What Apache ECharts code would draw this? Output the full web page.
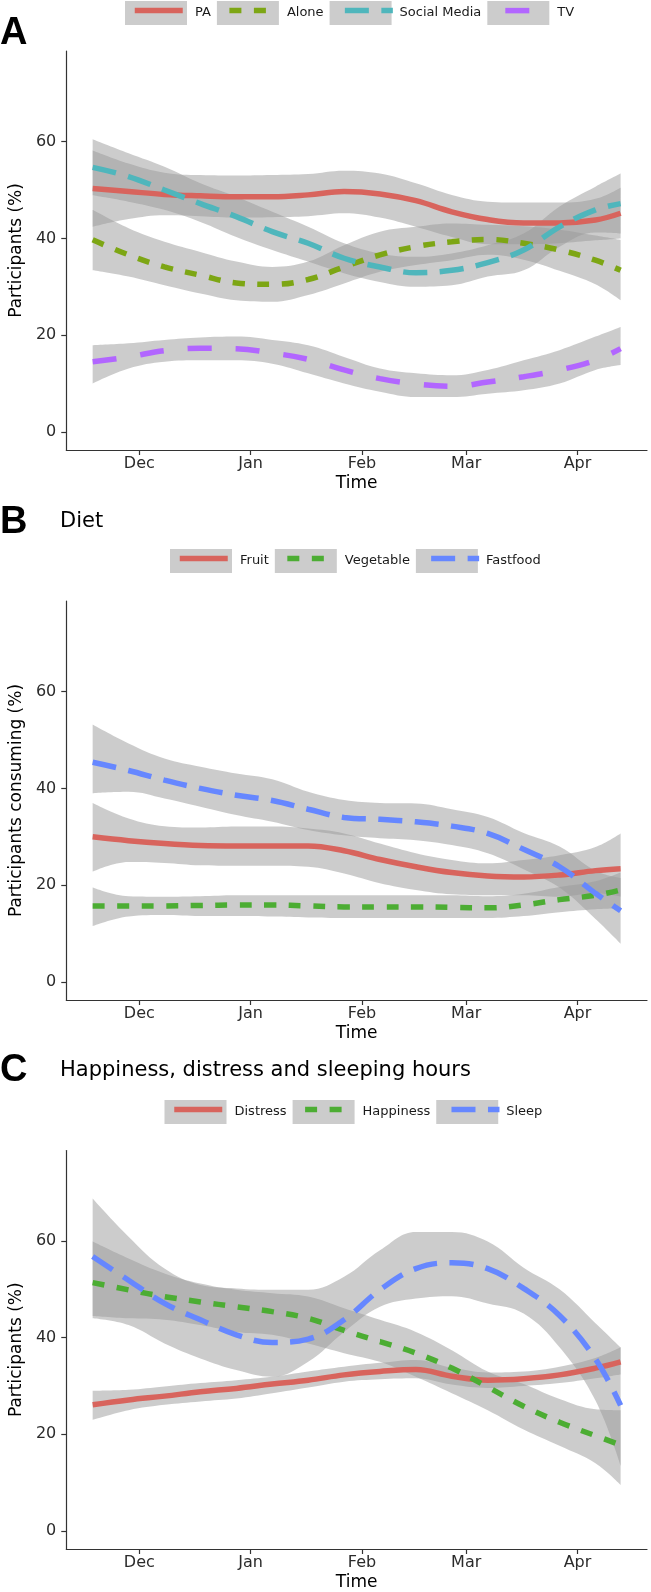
<!DOCTYPE html>
<html><head><meta charset="utf-8">
<script src="https://cdn.jsdelivr.net/npm/echarts@6/dist/echarts.min.js"></script>
<style>html,body{margin:0;padding:0;background:#fff}#c{width:651px;height:1592px}</style>
</head><body><div id="c"></div>
<script>
// x values: days relative to 1 Dec
const days = [-13,-3,7,17,27,37,47,57,67,77,87,97,107,117,127,134];
const monthTicks = [0,31,62,91,122];
const monthLabels = ['Dec','Jan','Feb','Mar','Apr'];
const yTicks = [0,20,40,60];

// Panel A
const paMean = [50.3,49.7,49.1,48.8,48.6,48.6,49.0,49.7,49.2,47.8,45.5,43.9,43.2,43.2,43.8,45.2];
const paLow  = [42.4,44.0,44.8,44.6,44.3,44.4,44.6,45.2,44.3,42.4,40.3,38.8,38.8,39.0,39.6,40.0];
const paHigh = [58.2,55.5,53.6,53.1,53.0,53.1,53.3,54.0,53.4,51.4,49.0,47.6,47.4,47.4,48.2,50.5];
const aloneMean = [39.7,36.6,34.1,32.4,30.8,30.5,31.5,34.1,36.6,38.3,39.3,39.8,39.0,37.6,35.5,33.4];
const aloneLow  = [33.4,32.1,30.3,28.6,27.2,26.9,28.3,30.7,33.1,34.5,35.5,36.6,35.6,33.3,30.5,27.2];
const aloneHigh = [45.9,42.1,39.3,37.2,35.2,34.1,35.2,38.6,41.4,42.4,43.1,42.8,42.5,41.8,40.6,39.7];
const socialMean = [54.7,52.8,50.0,47.2,44.5,41.4,39.0,35.9,34.1,32.9,33.4,35.0,37.6,42.4,45.9,47.2];
const socialLow  = [48.9,47.6,45.9,43.4,40.3,37.6,35.2,32.8,31.0,30.0,30.3,32.1,33.4,38.3,41.2,41.0];
const socialHigh = [60.5,57.6,54.8,51.4,48.6,45.5,42.4,39.0,36.9,36.2,36.9,38.6,41.0,46.6,50.7,53.4];
const tvMean = [14.5,15.5,16.8,17.3,17.2,16.3,15.0,12.8,11.0,9.9,9.4,10.3,11.4,12.8,14.8,17.2];
const tvLow  = [10.0,13.1,14.5,14.8,14.8,14.1,12.1,10.0,8.3,7.2,7.2,7.9,8.6,10.0,12.8,13.8];
const tvHigh = [17.9,18.3,19.0,19.5,19.7,19.0,17.9,15.5,13.1,12.1,11.7,12.8,14.8,16.9,19.7,21.7];

// Panel B
const fruitMean = [30.0,29.2,28.6,28.2,28.1,28.1,28.1,27.1,25.3,23.8,22.6,21.9,21.7,22.1,23.0,23.4];
const fruitLow  = [22.8,24.8,24.6,24.1,24.0,24.0,23.8,22.4,20.4,19.0,18.1,17.9,17.9,17.6,18.3,17.6];
const fruitHigh = [37.0,33.8,32.2,31.9,32.1,32.1,31.7,30.7,28.6,26.6,25.2,24.5,25.2,26.2,27.9,30.7];
const vegMean = [15.7,15.7,15.7,15.8,15.9,15.9,15.7,15.5,15.5,15.5,15.4,15.3,15.9,17.0,17.9,19.0];
const vegLow  = [11.5,13.5,13.8,13.6,13.6,13.5,13.3,13.2,13.2,13.2,13.2,13.2,13.6,14.4,15.0,15.2];
const vegHigh = [19.5,17.7,17.6,17.7,17.9,17.9,17.9,17.9,17.9,17.9,17.9,17.7,18.2,19.6,20.8,22.6];
const fastMean = [45.4,43.7,41.7,40.0,38.6,37.5,35.7,34.0,33.6,33.1,32.2,30.7,27.4,23.8,18.3,14.7];
const fastLow  = [39.0,39.3,37.9,36.2,34.5,33.1,31.4,30.3,29.7,29.3,28.3,26.6,23.3,19.5,13.0,7.9];
const fastHigh = [53.2,49.3,46.2,44.5,43.1,41.9,39.3,37.6,37.0,36.9,35.7,34.1,30.8,28.0,23.0,21.5];

// Panel C
const distressMean = [26.1,27.1,27.9,28.8,29.5,30.4,31.2,32.3,33.0,33.4,32.0,31.2,31.5,32.3,33.7,35.0];
const distressLow  = [23.0,25.0,26.1,26.8,27.4,28.5,29.7,30.9,31.4,31.6,30.3,29.6,30.0,30.6,31.6,32.4];
const distressHigh = [29.0,29.2,29.9,30.6,31.2,31.9,33.0,34.0,34.8,35.4,33.8,32.8,33.0,34.0,35.8,38.0];
const happyMean = [51.4,49.9,48.5,47.4,46.4,45.4,44.0,41.5,39.2,36.8,33.7,29.8,25.8,22.5,19.7,17.8];
const happyLow  = [44.5,44.0,43.7,42.6,41.2,40.6,38.8,36.8,35.0,31.9,28.5,25.0,21.0,17.6,14.0,9.5];
const happyHigh = [59.9,56.4,53.3,51.2,49.9,49.2,48.5,46.1,43.7,41.2,37.4,33.0,30.4,27.3,25.2,25.0];
const sleepMean = [56.8,51.9,47.1,43.7,40.6,39.0,39.7,43.7,49.9,54.3,55.5,54.3,50.2,44.6,35.6,26.0];
const sleepLow  = [44.0,42.6,38.8,35.7,33.3,31.9,35.0,41.2,46.4,48.1,48.6,47.1,45.0,38.0,27.0,13.5];
const sleepHigh = [68.8,60.9,54.3,50.9,50.2,49.9,49.9,52.6,58.1,61.9,61.9,59.9,54.5,50.0,43.0,38.0];

const FONT = 'DejaVu Sans';
const RED = '#D8645D', OLIVE = '#7DA614', TEAL = '#4FB6BC', PURPLE = '#B266FF', GREEN = '#4CAD33', BLUE = '#6687FF';
const SOLID = 'solid', SHORT = [12, 12.5], MED = [24, 12.5], LONG = [24, 24];

const panels = [
  { yName: 'Participants (%)', legendLeft: 125, legendTop: 1, top: 51,
    groups: [
      { name: 'PA', mean: paMean, lo: paLow, hi: paHigh, color: RED, dash: SOLID },
      { name: 'Alone', mean: aloneMean, lo: aloneLow, hi: aloneHigh, color: OLIVE, dash: SHORT },
      { name: 'Social Media', mean: socialMean, lo: socialLow, hi: socialHigh, color: TEAL, dash: MED },
      { name: 'TV', mean: tvMean, lo: tvLow, hi: tvHigh, color: PURPLE, dash: LONG }
    ] },
  { yName: 'Participants consuming (%)', legendLeft: 170, legendTop: 549, top: 601,
    groups: [
      { name: 'Fruit', mean: fruitMean, lo: fruitLow, hi: fruitHigh, color: RED, dash: SOLID },
      { name: 'Vegetable', mean: vegMean, lo: vegLow, hi: vegHigh, color: GREEN, dash: SHORT },
      { name: 'Fastfood', mean: fastMean, lo: fastLow, hi: fastHigh, color: BLUE, dash: MED }
    ] },
  { yName: 'Participants (%)', legendLeft: 164.5, legendTop: 1100, top: 1150.5,
    groups: [
      { name: 'Distress', mean: distressMean, lo: distressLow, hi: distressHigh, color: RED, dash: SOLID },
      { name: 'Happiness', mean: happyMean, lo: happyLow, hi: happyHigh, color: GREEN, dash: SHORT },
      { name: 'Sleep', mean: sleepMean, lo: sleepLow, hi: sleepHigh, color: BLUE, dash: MED }
    ] }
];

const LW = 5.5;
const grid = [], xAxis = [], yAxis = [], series = [], legend = [];
panels.forEach((p, pi) => {
  grid.push({ left: 59, top: p.top, width: 588, height: 399 });
  xAxis.push({
    type: 'value', gridIndex: pi, min: -20.35, max: 141.35,
    axisLine: { onZero: false, lineStyle: { color: '#333', width: 1.2 } },
    axisTick: { customValues: monthTicks, length: 5, lineStyle: { color: '#333', width: 1.2 } },
    axisLabel: { customValues: monthTicks, margin: 6, fontSize: 16, color: '#2b2b2b', fontFamily: FONT,
      formatter: v => monthLabels[monthTicks.indexOf(v)] },
    splitLine: { show: false },
    name: 'Time', nameLocation: 'middle', nameGap: 25,
    nameTextStyle: { fontSize: 17, color: '#000', fontFamily: FONT }
  });
  yAxis.push({
    type: 'value', gridIndex: pi, min: -3.75, max: 78.75,
    axisLine: { show: true, onZero: false, lineStyle: { color: '#333', width: 1.2 } },
    axisTick: { show: true, customValues: yTicks, length: 5, lineStyle: { color: '#333', width: 1.2 } },
    axisLabel: { customValues: yTicks, margin: 10, fontSize: 16, color: '#2b2b2b', fontFamily: FONT },
    splitLine: { show: false },
    name: p.yName, nameLocation: 'middle', nameGap: 36,
    nameTextStyle: { fontSize: 17, color: '#000', fontFamily: FONT }
  });
  p.groups.forEach((g, gi) => {
    const st = 'st' + pi + '_' + gi;
    // value first so the stack applies to the y values; x read from dim 1
    series.push({
      name: g.name + '_lo', type: 'line', xAxisIndex: pi, yAxisIndex: pi, stack: st,
      encode: { x: 1, y: 0 },
      data: days.map((d, i) => [g.lo[i], d]), smooth: 0.4, symbol: 'none', silent: true,
      lineStyle: { width: 0, opacity: 0 }
    });
    series.push({
      name: g.name + '_band', type: 'line', xAxisIndex: pi, yAxisIndex: pi, stack: st,
      encode: { x: 1, y: 0 },
      data: days.map((d, i) => [g.hi[i] - g.lo[i], d]), smooth: 0.4, symbol: 'none', silent: true,
      lineStyle: { width: 0, opacity: 0 },
      areaStyle: { color: '#999999', opacity: 0.5 }
    });
    series.push({
      name: g.name, type: 'line', xAxisIndex: pi, yAxisIndex: pi,
      data: days.map((d, i) => [d, g.mean[i]]), smooth: 0.4, symbol: 'none', silent: true,
      color: g.color,
      lineStyle: { width: LW, color: g.color, type: g.dash, cap: 'butt' }
    });
  });
  const names = p.groups.map(g => g.name);
  legend.push({
    data: names, left: p.legendLeft, top: p.legendTop, padding: 0, orient: 'horizontal',
    itemWidth: 62, itemHeight: 24, itemGap: 6, icon: 'rect', selectedMode: false,
    itemStyle: { color: '#cccccc', borderWidth: 0 },
    textStyle: { fontSize: 13, color: '#1a1a1a', fontFamily: FONT, padding: [0, 2, 0, 3] },
    z: 4
  });
  legend.push({
    data: names, left: p.legendLeft + 7, top: p.legendTop, padding: 0, orient: 'horizontal',
    itemWidth: 48, itemHeight: 24, itemGap: 20, selectedMode: false,
    itemStyle: { opacity: 0, borderWidth: 0 },
    lineStyle: { width: LW },
    textStyle: { fontSize: 13, color: 'rgba(0,0,0,0)', fontFamily: FONT, padding: [0, 2, 0, 3] },
    z: 5
  });
});

const letterStyle = { fontFamily: 'Liberation Sans', fontWeight: 'bold', fontSize: 38, color: '#000' };
const subStyle = { fontFamily: FONT, fontWeight: 'normal', fontSize: 21, color: '#000' };
const title = [
  { text: 'A', left: 0, top: 15, padding: 0, textStyle: letterStyle },
  { text: 'B', left: 0, top: 504, padding: 0, textStyle: letterStyle },
  { text: 'C', left: 0, top: 1051.5, padding: 0, textStyle: letterStyle },
  { text: 'Diet', left: 60, top: 511.5, padding: 0, textStyle: subStyle },
  { text: 'Happiness, distress and sleeping hours', left: 60, top: 1060, padding: 0, textStyle: subStyle }
];

const chart = echarts.init(document.getElementById('c'), null, { renderer: 'canvas' });
chart.setOption({ animation: false, backgroundColor: '#fff', title, grid, xAxis, yAxis, legend, series });
</script></body></html>
